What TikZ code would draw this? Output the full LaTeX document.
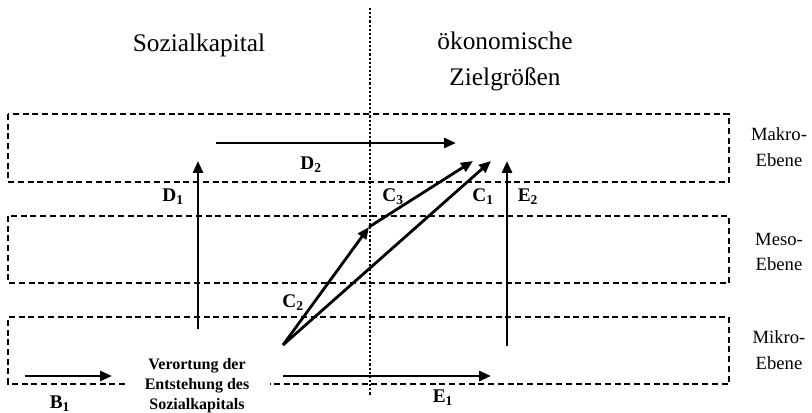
\documentclass[tikz,border=0pt]{standalone}
\usepackage{fontspec}
\setmainfont{Liberation Serif}
\usetikzlibrary{arrows.meta}
\begin{document}
\begin{tikzpicture}[x=0.75pt,y=-0.75pt,
  level/.style={line width=1.4pt, dash pattern=on 4.5pt off 2.8pt},
  divider/.style={line width=2pt, dash pattern=on 1.6pt off 1.5pt},
  arr/.style={line width=2.1pt, -{Triangle[length=9pt,width=7.5pt]}},
  lbl/.style={font=\bfseries\fontsize{14.5}{14.5}\selectfont, inner sep=0pt},
  title/.style={font=\fontsize{19}{22}\selectfont, inner sep=0pt, align=center},
  side/.style={font=\fontsize{14}{19}\selectfont, inner sep=0pt, align=center},
  origin/.style={font=\bfseries\fontsize{12}{15}\selectfont, inner sep=0pt, align=center}]
\useasboundingbox (0,0) rectangle (812,413);
% divider
\coordinate (dtop) at (370,8);
\coordinate (dbot) at (370,396);
\draw[divider] (dtop) -- (dbot);
% level boxes
\draw[level] (8,114) rectangle (729,182);
\draw[level] (8,216) rectangle (729,283);
\draw[level] (125,384) -- (8,384) -- (8,317) -- (729,317) -- (729,384) -- (270,384);
% titles
\node[title] (soz) at (199,45) {Sozialkapital};
\node[title] (oek) at (505,61) {ökonomische\\[5pt]Zielgrößen};
% side labels
\node[side] (makro) at (779,147) {Makro-\\Ebene};
\node[side] (meso) at (779,252) {Meso-\\Ebene};
\node[side] (mikro) at (779,350) {Mikro-\\Ebene};
% origin text
\node[origin] (ort) at (197,386) {Verortung der\\Entstehung des\\Sozialkapitals};
% coordinates
\coordinate (b1s) at (25,376);
\coordinate (b1e) at (112,376);
\coordinate (e1s) at (283,376);
\coordinate (e1e) at (491,376);
\coordinate (d1s) at (198,329);
\coordinate (d1e) at (198,161);
\coordinate (e2s) at (507,346);
\coordinate (e2e) at (507,161);
\coordinate (d2s) at (216,143);
\coordinate (d2e) at (456,143);
\coordinate (src) at (283,345);
\coordinate (mid) at (369,227);
\coordinate (c3e) at (473,161);
\coordinate (c1e) at (491,161);
% arrows
\draw[arr] (b1s) -- (b1e);
\draw[arr] (e1s) -- (e1e);
\draw[arr] (d1s) -- (d1e);
\draw[arr] (e2s) -- (e2e);
\draw[arr] (d2s) -- (d2e);
\draw[arr] (src) -- (mid);
\draw[arr] (mid) -- (c3e);
\draw[arr] (src) -- (c1e);
% labels
\node[lbl] (B1) at (60,404) {B\textsubscript{1}};
\node[lbl] (E1) at (443,398) {E\textsubscript{1}};
\node[lbl] (D1) at (173,197) {D\textsubscript{1}};
\node[lbl] (D2) at (311,165) {D\textsubscript{2}};
\node[lbl] (E2) at (528,197) {E\textsubscript{2}};
\node[lbl] (C1) at (483,197) {C\textsubscript{1}};
\node[lbl] (C3) at (393,197) {C\textsubscript{3}};
\node[lbl] (C2) at (293,303) {C\textsubscript{2}};
\end{tikzpicture}
\end{document}
